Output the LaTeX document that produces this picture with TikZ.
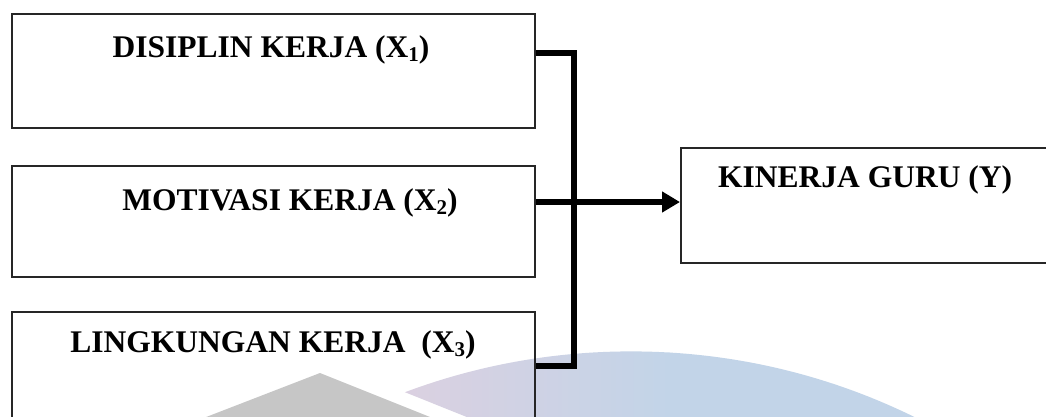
\documentclass[tikz,border=0pt]{standalone}
\usepackage{fontspec}
\setmainfont{Liberation Serif}
\usetikzlibrary{arrows.meta,calc}
\definecolor{wmgray}{RGB}{198,198,198}
\definecolor{wmpink}{RGB}{221,208,224}
\definecolor{wmblue}{RGB}{194,212,232}
\newcommand\lowsub[1]{\raisebox{-0.13em}{\fontsize{21}{21}\selectfont #1}}
\tikzset{
  box/.style={draw=black!85, line width=2pt, rectangle, inner sep=0pt,
    minimum width=523pt, anchor=north west},
  lbl/.style={inner sep=0pt, font=\fontsize{31.5}{37}\selectfont\bfseries},
  conn/.style={line width=6pt, black, line join=miter, line cap=butt},
}
\begin{document}
\begin{tikzpicture}[x=1pt, y=-1pt]
  \clip (0,0) rectangle (1046,416);
  \fill[white] (0,0) rectangle (1046,416);

  % faint logo in the background
  \fill[wmgray] (320,373) -- (170,431) -- (465,431) -- cycle;
  \begin{scope}
    \clip (631,995) circle[radius=643.6];
    \clip (407,393) -- ($(407,393)+(2.49*40,40)$) -- (1100,433) -- (1100,300) -- ($(407,393)+(-2.49*40,-40)$) -- cycle;
    \shade[left color=wmpink, right color=wmblue] (380,330) rectangle (670,430);
    \fill[wmblue] (669,330) rectangle (1100,430);
  \end{scope}

  % boxes
  \node[box, minimum height=114pt] (b1) at (11,13) {};
  \node[box, minimum height=111pt] (b2) at (11,165) {};
  \node[box, minimum height=129pt] (b3) at (11,311) {};
  \node[box, minimum width=390pt, minimum height=115pt] (yb) at (680,147) {};

  % labels
  \node[lbl, anchor=base] (t1) at (271,57) {DISIPLIN KERJA (X\lowsub{1})};
  \node[lbl, anchor=base] (t2) at (290,210) {MOTIVASI KERJA (X\lowsub{2})};
  \node[lbl, anchor=base] (t3) at (273,352) {LINGKUNGAN KERJA~~(X\lowsub{3})};
  \node[lbl, anchor=base west] (ty) at (718,187) {KINERJA GURU (Y)};

  % connectors
  \coordinate (jn) at (574,200);
  \draw[conn] ([yshift=-40pt]b1.north east) -| (jn) |- ([yshift=-55pt]b3.north east);
  \draw[conn, -{Triangle[length=18pt, width=20pt]}]
    ([yshift=-37pt]b2.north east) -- ([yshift=-55pt]yb.north west);
\end{tikzpicture}
\end{document}
